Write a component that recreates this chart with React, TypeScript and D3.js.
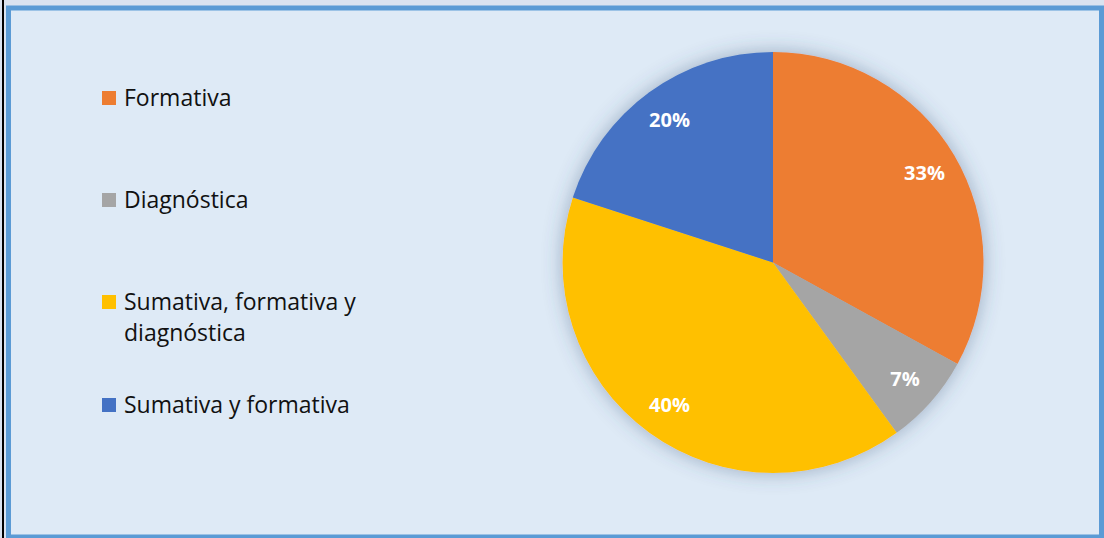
import React from "react";
import * as d3 from "d3";

const categories = ["Formativa", "Diagnóstica", "Sumativa, formativa y diagnóstica", "Sumativa y formativa"];
const values = [33, 7, 40, 20];
const colors = ["#ED7D31", "#A5A5A5", "#FFC000", "#4472C4"];
const legendLines = [["Formativa"], ["Diagnóstica"], ["Sumativa, formativa y", "diagnóstica"], ["Sumativa y formativa"]];
const legendY = [98, 200, 302, 405];

export default function App() {
  const W = 1104, H = 538;
  const cx = 773, cy = 262.5, R = 210.5;
  const pie = d3.pie<number>().sort(null).value((d) => d)(values);
  const arc = d3.arc<d3.PieArcDatum<number>>().innerRadius(0).outerRadius(R);
  const labelArc = d3.arc<d3.PieArcDatum<number>>().innerRadius(176).outerRadius(176);
  const total = d3.sum(values);
  const font = "'Open Sans', sans-serif";
  return (
    <svg width={W} height={H} style={{ position: "absolute", left: 0, top: 0, display: "block" }}>
      <defs>
        <filter id="shadow" x="-30%" y="-30%" width="160%" height="160%">
          <feGaussianBlur in="SourceAlpha" stdDeviation="10" result="b" />
          <feFlood floodColor="#3a5478" floodOpacity="0.42" />
          <feComposite in2="b" operator="in" result="s" />
          <feMerge><feMergeNode in="s" /><feMergeNode in="SourceGraphic" /></feMerge>
        </filter>
      </defs>
      <rect x={0} y={0} width={W} height={H} fill="#DAE3F0" />
      <rect x={2} y={0} width={2} height={H} fill="#000" />
      <rect x={8.5} y={8} width={1093} height={529} fill="#DEEAF6" stroke="#5B9BD5" strokeWidth={5} />
      <g transform={`translate(${cx},${cy})`} filter="url(#shadow)">
        {pie.map((p, i) => (
          <path key={i} d={arc(p) || ""} fill={colors[i]} />
        ))}
      </g>
      <g transform={`translate(${cx},${cy})`}>
        {pie.map((p, i) => {
          const [x, y] = labelArc.centroid(p);
          return (
            <text key={i} x={x} y={y} dy="0.36em" textAnchor="middle" fill="#fff" fontWeight="bold" fontSize={20} fontFamily={font}>
              {Math.round((values[i] / total) * 100)}%
            </text>
          );
        })}
      </g>
      <g>
        {categories.map((c, i) => (
          <g key={c}>
            <rect x={102} y={legendY[i] - 7} width={14} height={14} fill={colors[i]} />
            {legendLines[i].map((l, j) => (
              <text key={j} x={124} y={legendY[i] + j * 31} dy="0.36em" fontSize={23} fontFamily={font} fill="#111">
                {l}
              </text>
            ))}
          </g>
        ))}
      </g>
    </svg>
  );
}
